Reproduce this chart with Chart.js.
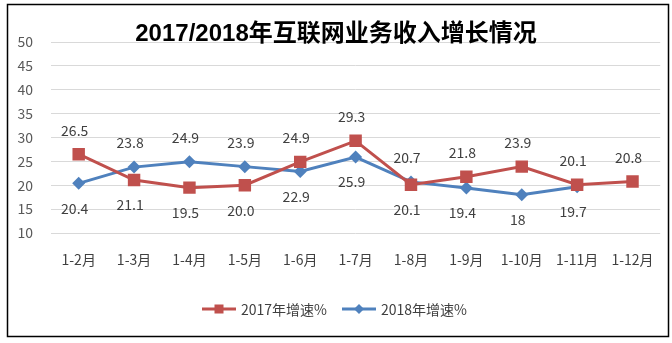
<!DOCTYPE html>
<html>
<head>
<meta charset="utf-8">
<script src="https://cdn.jsdelivr.net/npm/chart.js@4/dist/chart.umd.min.js"></script>
<style>
  html, body { margin: 0; padding: 0; background: #fff; }
  #wrap { width: 672px; height: 343px; position: relative; }
</style>
</head>
<body>
<div id="wrap"><canvas id="c"></canvas></div>
<script>
// Data
const CATEGORIES = ["1-2月", "1-3月", "1-4月", "1-5月", "1-6月", "1-7月", "1-8月", "1-9月", "1-10月", "1-11月", "1-12月"];
const GROWTH_2017 = [26.5, 21.1, 19.5, 20.0, 24.9, 29.3, 20.1, 21.8, 23.9, 20.1, 20.8];
const GROWTH_2018 = [20.4, 23.8, 24.9, 23.9, 22.9, 25.9, 20.7, 19.4, 18, 19.7, null];
const LABELS_2017 = ["26.5", "21.1", "19.5", "20.0", "24.9", "29.3", "20.1", "21.8", "23.9", "20.1", "20.8"];
const LABELS_2018 = ["20.4", "23.8", "24.9", "23.9", "22.9", "25.9", "20.7", "19.4", "18", "19.7", ""];
const SERIES_NAMES = ["2017年增速%", "2018年增速%"];
const TITLE = "2017/2018年互联网业务收入增长情况";

const RED = "#C0504D";
const BLUE = "#4F81BD";
const TEXT = "#404040";
const FONT = "'Noto Sans CJK SC', 'Noto Sans', sans-serif";

// frame, title, data labels and legend
const decor = {
  id: "decor",
  beforeDraw(chart) {
    const ctx = chart.ctx;
    ctx.save();
    ctx.fillStyle = "#fff";
    ctx.fillRect(0, 0, chart.width, chart.height);
    ctx.restore();
  },
  afterDraw(chart) {
    const ctx = chart.ctx;
    ctx.save();
    // frame
    ctx.strokeStyle = "#000";
    ctx.lineWidth = 1.5;
    ctx.strokeRect(7.5, 4.5, 661, 332);

    // title
    ctx.fillStyle = "#000";
    ctx.font = "bold 24px 'Liberation Sans', 'Noto Sans CJK SC', sans-serif";
    ctx.textAlign = "center";
    ctx.textBaseline = "middle";
    ctx.fillText(TITLE, 336, 34);

    // data labels: higher value above, lower value below
    ctx.font = "14px " + FONT;
    ctx.fillStyle = TEXT;
    const m0 = chart.getDatasetMeta(0).data;
    const m1 = chart.getDatasetMeta(1).data;
    CATEGORIES.forEach((_, i) => {
      const a = GROWTH_2017[i], b = GROWTH_2018[i];
      const pairs = [[a, m0[i], LABELS_2017[i]], [b, m1[i], LABELS_2018[i]]];
      pairs.forEach(([v, el, txt], k) => {
        if (v == null || !el) return;
        const other = k === 0 ? b : a;
        const above = other == null || v >= other;
        const y = above ? el.y - 24 : el.y + 25;
        ctx.fillText(txt, el.x - 4, y);
      });
    });

    // legend
    const items = [
      { name: SERIES_NAMES[0], color: RED, x: 202, marker: "rect" },
      { name: SERIES_NAMES[1], color: BLUE, x: 342, marker: "diamond" },
    ];
    const ly = 309;
    items.forEach(it => {
      ctx.strokeStyle = it.color;
      ctx.lineWidth = 3;
      ctx.beginPath();
      ctx.moveTo(it.x, ly);
      ctx.lineTo(it.x + 34, ly);
      ctx.stroke();
      ctx.fillStyle = it.color;
      const cx = it.x + 17;
      if (it.marker === "rect") {
        ctx.fillRect(cx - 4.5, ly - 4.5, 9, 9);
      } else {
        ctx.beginPath();
        ctx.moveTo(cx, ly - 5);
        ctx.lineTo(cx + 5, ly);
        ctx.lineTo(cx, ly + 5);
        ctx.lineTo(cx - 5, ly);
        ctx.closePath();
        ctx.fill();
      }
      ctx.fillStyle = TEXT;
      ctx.textAlign = "left";
      ctx.fillText(it.name, it.x + 39, ly + 1);
    });
    ctx.restore();
  },
};

new Chart(document.getElementById("c").getContext("2d"), {
  type: "line",
  data: {
    labels: CATEGORIES,
    datasets: [
      {
        label: SERIES_NAMES[0],
        data: GROWTH_2017,
        borderColor: RED,
        backgroundColor: RED,
        borderWidth: 3,
        pointStyle: "rect",
        pointRadius: 8.8,
        pointBorderWidth: 0,
        tension: 0,
      },
      {
        label: SERIES_NAMES[1],
        data: GROWTH_2018,
        borderColor: BLUE,
        backgroundColor: BLUE,
        borderWidth: 3,
        pointStyle: "rectRot",
        pointRadius: 6.5,
        pointBorderWidth: 0,
        tension: 0,
      },
    ],
  },
  options: {
    responsive: true,
    maintainAspectRatio: false,
    animation: false,
    layout: { padding: { left: 0, top: 42, right: 5, bottom: 0 } },
    plugins: {
      legend: { display: false },
      title: { display: false },
      tooltip: { enabled: false },
    },
    scales: {
      x: {
        offset: true,
        grid: { display: false, drawTicks: false },
        border: { display: false },
        ticks: {
          color: TEXT,
          padding: 18,
          maxRotation: 0,
          autoSkip: false,
          font: { family: FONT, size: 14 },
        },
        afterFit: s => { s.height = 110; },
      },
      y: {
        min: 10,
        max: 50,
        grid: { color: "#D9D9D9", lineWidth: 1, drawTicks: false },
        border: { display: false },
        ticks: {
          stepSize: 5,
          color: "#595959",
          padding: 18,
          font: { family: FONT, size: 14 },
        },
        afterFit: s => { s.width = 51; },
      },
    },
  },
  plugins: [decor],
});
</script>
</body>
</html>
